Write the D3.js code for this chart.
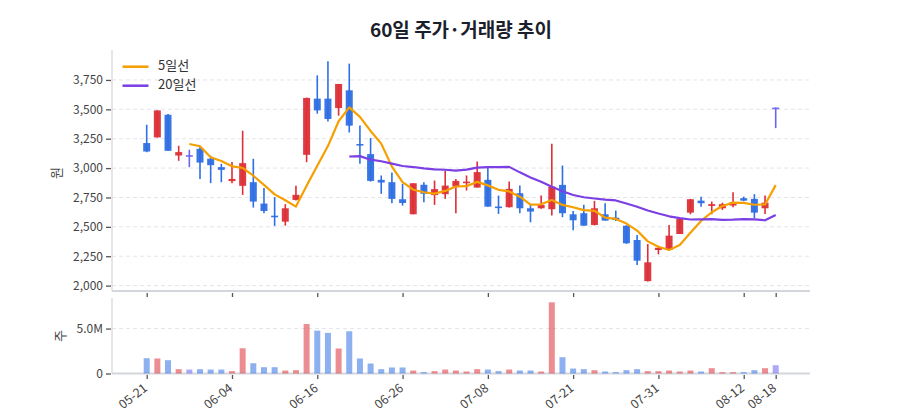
<!DOCTYPE html>
<html><head><meta charset="utf-8">
<script src="https://cdn.jsdelivr.net/npm/d3@7/dist/d3.min.js"></script>
<style>
html,body{margin:0;padding:0;background:#fff;}
svg{display:block;font-family:"Noto Sans CJK KR","Noto Sans",sans-serif;}
</style></head>
<body>
<svg id="chart" width="900" height="420"></svg>
<script>
const dates = ["05-21","05-22","05-23","05-24","05-27","05-28","05-29","05-31","06-04",
"06-05","06-07","06-09","06-10","06-11","06-12","06-13","06-16",
"06-17","06-18","06-19","06-20","06-21","06-23","06-24","06-26",
"06-27","06-30","07-01","07-02","07-03","07-04","07-07","07-08",
"07-09","07-10","07-11","07-14","07-15","07-16","07-18","07-21",
"07-22","07-23","07-24","07-25","07-28","07-29","07-30","07-31",
"08-01","08-04","08-05","08-06","08-07","08-08","08-11","08-12",
"08-13","08-14","08-18"];
const opens  = [3213,3261,3454,3107,3110,3164,3080,3008,2889,2849,2880,2698,2595,2544,2729,3113,3591,3591,3511,3662,
                3205,3119,2900,2880,2735,2607,2858,2770,2778,2843,2871,2834,2900,2673,2667,2786,2658,2658,2650,2857,
                2607,2616,2516,2607,2578,2510,2388,2038,2303,2303,2439,2621,2723,2678,2658,2681,2744,2738,2658,3515];
const highs  = [3369,3491,3460,3190,3156,3184,3105,3036,3051,3318,3079,2830,2752,2693,2849,3600,3789,3909,3716,3889,
                3363,3256,2937,2962,2866,2871,2880,2894,2979,2908,2937,3056,3000,2766,2885,2851,2695,2766,3207,3022,
                2635,2687,2721,2701,2638,2512,2431,2354,2330,2516,2570,2738,2757,2715,2706,2795,2757,2778,2766,3515];
const lows   = [3135,3261,3147,3062,3008,2908,2872,2880,2872,2772,2664,2616,2508,2510,2725,3050,3463,3397,3446,3303,
                3036,2885,2781,2701,2681,2607,2710,2687,2738,2616,2809,2834,2672,2610,2665,2616,2539,2655,2596,2582,
                2470,2510,2512,2553,2550,2355,2175,2035,2266,2300,2439,2607,2672,2607,2644,2667,2718,2573,2610,3340];
const closes = [3141,3491,3147,3136,3110,3047,3025,2985,2908,3042,2715,2635,2582,2658,2772,3597,3491,3418,3716,3361,
                3195,2891,2877,2738,2703,2871,2782,2821,2851,2891,2885,2966,2672,2662,2823,2658,2630,2687,2843,2616,
                2556,2510,2658,2553,2559,2360,2212,2198,2322,2425,2567,2735,2701,2693,2693,2710,2723,2621,2706,3515];
const volumes = [1.70,1.67,1.48,0.48,0.44,0.48,0.44,0.44,0.26,2.81,1.14,0.70,0.70,0.33,0.37,5.51,4.77,4.52,2.78,4.70,
                 1.67,1.11,0.48,0.67,0.67,0.33,0.15,0.26,0.44,0.33,0.22,0.48,0.44,0.26,0.44,0.33,0.33,0.22,7.92,1.81,
                 0.55,0.48,0.37,0.22,0.15,0.37,0.48,0.26,0.26,0.33,0.22,0.33,0.22,0.59,0.15,0.15,0.15,0.37,0.59,0.92].map(v=>v*1e6);
const xTickLabels = ["05-21","06-04","06-16","06-26","07-08","07-21","07-31","08-12","08-18"];
const priceTicks = [2000,2250,2500,2750,3000,3250,3500,3750];
const volTicks = [0,5e6];
const maPeriods = [5,20];
const maNames = ["5일선","20일선"];
const titleText = "60일 주가·거래량 추이";

const C = {up:"#dc2f37", down:"#2e6fe3", flat:"#6c63ef", ma5:"#f59f00", ma20:"#7b3fe4",
           grid:"#e3e5ea", axis:"#d3d6dd", tick:"#555", text:"#444"};
const L = {left:112, right:810, pTop:50, pBot:291, vTop:298, vBot:373.5};

const svg = d3.select("#chart");
const n = dates.length;
const x = d3.scaleLinear().domain([0, n-1]).range([146.7, 775.7]);
const yP = d3.scaleLinear().domain([1954, 4005]).range([L.pBot, L.pTop]);
const yV = d3.scaleLinear().domain([0, 8.4e6]).range([L.vBot, L.vTop]);

function col(i){ return closes[i]>opens[i]?C.up:(closes[i]<opens[i]?C.down:C.flat); }

// title
svg.append("text").attr("x",(L.left+L.right)/2).attr("y",32).attr("text-anchor","middle")
  .attr("dominant-baseline","middle").attr("font-size",19).attr("font-weight",700)
  .attr("fill","#1b1e2b").text(titleText);

// grid price
const gP = svg.append("g");
gP.selectAll("line.g").data(priceTicks).join("line")
  .attr("x1",L.left).attr("x2",L.right).attr("y1",d=>yP(d)).attr("y2",d=>yP(d))
  .attr("stroke",C.grid).attr("stroke-dasharray","4,3");
// grid vol
svg.append("g").selectAll("line").data(volTicks.filter(d=>d>0)).join("line")
  .attr("x1",L.left).attr("x2",L.right).attr("y1",d=>yV(d)).attr("y2",d=>yV(d))
  .attr("stroke",C.grid).attr("stroke-dasharray","4,3");

// y axes
const axP = d3.axisLeft(yP).tickValues(priceTicks).tickFormat(d3.format(",")).tickSize(5).tickPadding(4);
const gAxP = svg.append("g").attr("transform",`translate(${L.left},0)`).call(axP);
const axV = d3.axisLeft(yV).tickValues(volTicks).tickFormat(d=>d===0?"0":d3.format(".1f")(d/1e6)+"M").tickSize(5).tickPadding(4);
const gAxV = svg.append("g").attr("transform",`translate(${L.left},0)`).call(axV);
[gAxP,gAxV].forEach(g=>{
  g.select(".domain").remove();
  g.selectAll(".tick line").attr("stroke",C.tick).attr("stroke-width",1.3).attr("transform","translate(-1,0)");
  g.selectAll(".tick text").attr("fill",C.text).attr("font-size",12).attr("font-family","Noto Sans CJK KR, Noto Sans, sans-serif");
});
// axis lines
svg.append("line").attr("x1",L.left).attr("x2",L.left).attr("y1",L.pTop).attr("y2",L.pBot).attr("stroke",C.axis).attr("stroke-width",1.2);
svg.append("line").attr("x1",L.left).attr("x2",L.left).attr("y1",L.vTop).attr("y2",L.vBot).attr("stroke",C.axis).attr("stroke-width",1.2);
svg.append("line").attr("x1",L.left).attr("x2",L.right).attr("y1",L.pBot).attr("y2",L.pBot).attr("stroke",C.axis).attr("stroke-width",2);
svg.append("line").attr("x1",L.left).attr("x2",L.right).attr("y1",L.vBot).attr("y2",L.vBot).attr("stroke",C.axis).attr("stroke-width",2);

// x axes
const tickIdx = xTickLabels.map(t=>dates.indexOf(t));
const axX = d3.axisBottom(x).tickValues(tickIdx).tickSize(4).tickPadding(6).tickFormat(i=>dates[i]);
const gX1 = svg.append("g").attr("transform",`translate(0,${L.pBot+2})`).call(axX);
gX1.selectAll(".tick text").remove();
const gX2 = svg.append("g").attr("transform",`translate(0,${L.vBot+1.5})`).call(axX);
[gX1,gX2].forEach(g=>{ g.select(".domain").remove(); g.selectAll(".tick line").attr("stroke",C.tick).attr("stroke-width",1.3); });
gX2.selectAll(".tick text").attr("fill",C.text).attr("font-size",12.5)
  .attr("font-family","Noto Sans CJK KR, Noto Sans, sans-serif")
  .attr("text-anchor","end").attr("dy",null).attr("y",null)
  .attr("transform","translate(-1,12) rotate(-38)").attr("dominant-baseline","middle");

// axis titles
svg.append("text").attr("transform","translate(57,173) rotate(-90)").attr("text-anchor","middle")
  .attr("dominant-baseline","middle").attr("font-size",13).attr("fill",C.text).text("원");
svg.append("text").attr("transform","translate(61,336) rotate(-90)").attr("text-anchor","middle")
  .attr("dominant-baseline","middle").attr("font-size",13).attr("fill",C.text).text("주");

// volume bars
const bw = 6;
svg.append("g").selectAll("rect").data(d3.range(n)).join("rect")
  .attr("x",i=>x(i)-bw/2).attr("width",bw)
  .attr("y",i=>yV(volumes[i])).attr("height",i=>yV(0)-yV(volumes[i]))
  .attr("fill",i=>col(i)).attr("fill-opacity",0.55);

// candles
const cw = 7;
const gC = svg.append("g");
gC.selectAll("line").data(d3.range(n)).join("line")
  .attr("x1",i=>x(i)).attr("x2",i=>x(i)).attr("y1",i=>yP(highs[i])).attr("y2",i=>yP(lows[i]))
  .attr("stroke",i=>col(i)).attr("stroke-width",1.6);
gC.selectAll("rect").data(d3.range(n)).join("rect")
  .attr("x",i=>x(i)-cw/2).attr("width",cw)
  .attr("y",i=>yP(Math.max(opens[i],closes[i])))
  .attr("height",i=>Math.max(1.6, Math.abs(yP(opens[i])-yP(closes[i]))))
  .attr("fill",i=>col(i)).attr("fill-opacity",0.95);

// moving averages (derived from closes)
function ma(p){ return d3.range(n).map(i=> i<p-1?null:d3.mean(closes.slice(i-p+1,i+1))); }
const maCols = [C.ma5, C.ma20];
maPeriods.forEach((p,k)=>{
  const vals = ma(p);
  const line = d3.line().defined(d=>d!=null).x((d,i)=>x(i)).y(d=>yP(d));
  svg.append("path").datum(vals).attr("d",line).attr("fill","none")
    .attr("stroke",maCols[k]).attr("stroke-width",2.2).attr("stroke-linejoin","round");
});

// legend
const lg = svg.append("g");
maNames.forEach((nm,k)=>{
  const yy = 66.7 + k*19;
  lg.append("line").attr("x1",122.5).attr("x2",148.5).attr("y1",yy).attr("y2",yy)
    .attr("stroke",maCols[k]).attr("stroke-width",2.5);
  lg.append("text").attr("x",158).attr("y",yy).attr("dominant-baseline","middle")
    .attr("font-size",13).attr("fill","#333").text(nm);
});
</script>
</body></html>
